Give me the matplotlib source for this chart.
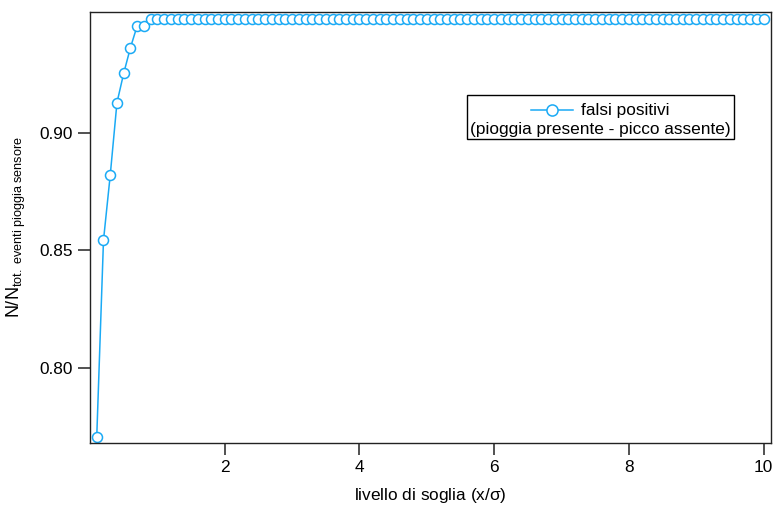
import numpy as np
import matplotlib
matplotlib.use("Agg")
import matplotlib.pyplot as plt
from matplotlib.lines import Line2D
from matplotlib.offsetbox import (AnchoredOffsetbox, DrawingArea, HPacker,
                                  TextArea, VPacker)

plt.rcParams['font.family'] = ['Liberation Sans', 'DejaVu Sans']
plt.rcParams['mathtext.fontset'] = 'custom'
plt.rcParams['mathtext.rm'] = 'Liberation Sans'
plt.rcParams['mathtext.it'] = 'Liberation Sans'

# DATI ---------------------------------------------------------------------
# livello di soglia (x/sigma)
soglia = [0.1, 0.2, 0.3, 0.4, 0.5, 0.6, 0.7, 0.8] + \
         [round(0.9 + 0.1 * k, 1) for k in range(92)]
# frazione di falsi positivi
falsi_pos = [0.7707, 0.8543, 0.8820, 0.9129, 0.9254, 0.9363, 0.9456, 0.9456] + \
            [0.9485] * 92

colore = '#1aaaf5'
fs = 12.4

# GRAFICO ------------------------------------------------------------------
fig = plt.figure(figsize=(7.78, 5.05), dpi=100)
ax = fig.add_axes([0.1157, 0.1228, 0.8753, 0.8534])

ax.plot(soglia, falsi_pos, '-o', color=colore, lw=1.1, ms=7.2,
        mfc='white', mec=colore, mew=1.1)

ax.set_xlim(0.0, 10.11)
ax.set_ylim(0.768, 0.9515)
ax.set_xticks([2, 4, 6, 8, 10])
ax.set_yticks([0.80, 0.85, 0.90])
ax.set_yticklabels(['0.80', '0.85', '0.90'])

for s in ax.spines.values():
    s.set_linewidth(1.0)
    s.set_color('#222222')
ax.tick_params(direction='out', length=8.5, width=1.2, color='#333333',
               labelsize=fs, pad=4)

ax.set_xlabel(r'livello di soglia (x/$\sigma$)', fontsize=fs, labelpad=8)
ax.set_ylabel(r'N/N$_{\mathrm{tot.\ eventi\ pioggia\ sensore}}$',
              fontsize=13, labelpad=8)

# legenda centrata su due righe
da = DrawingArea(30, 10, 0, 0)
da.add_artist(Line2D([0, 30], [5, 5], color=colore, lw=1.1))
da.add_artist(Line2D([15], [5], marker='o', ms=8, mfc='white',
                     mec=colore, mew=1.1))
riga1 = HPacker(children=[da, TextArea('falsi positivi',
                                       textprops=dict(fontsize=fs))],
                align='center', pad=0, sep=6)
riga2 = TextArea('(pioggia presente - picco assente)',
                 textprops=dict(fontsize=fs))
box = VPacker(children=[DrawingArea(1, 0.5), riga1, riga2],
              align='center', pad=0, sep=3)
leg = AnchoredOffsetbox(loc='center', child=box, pad=0.2, borderpad=0,
                        frameon=True, bbox_to_anchor=(0.7495, 0.756),
                        bbox_transform=ax.transAxes)
leg.patch.set_boxstyle('square', pad=0)
leg.patch.set_linewidth(1.0)
leg.patch.set_edgecolor('black')
ax.add_artist(leg)

fig.savefig('out.png', dpi=100)
